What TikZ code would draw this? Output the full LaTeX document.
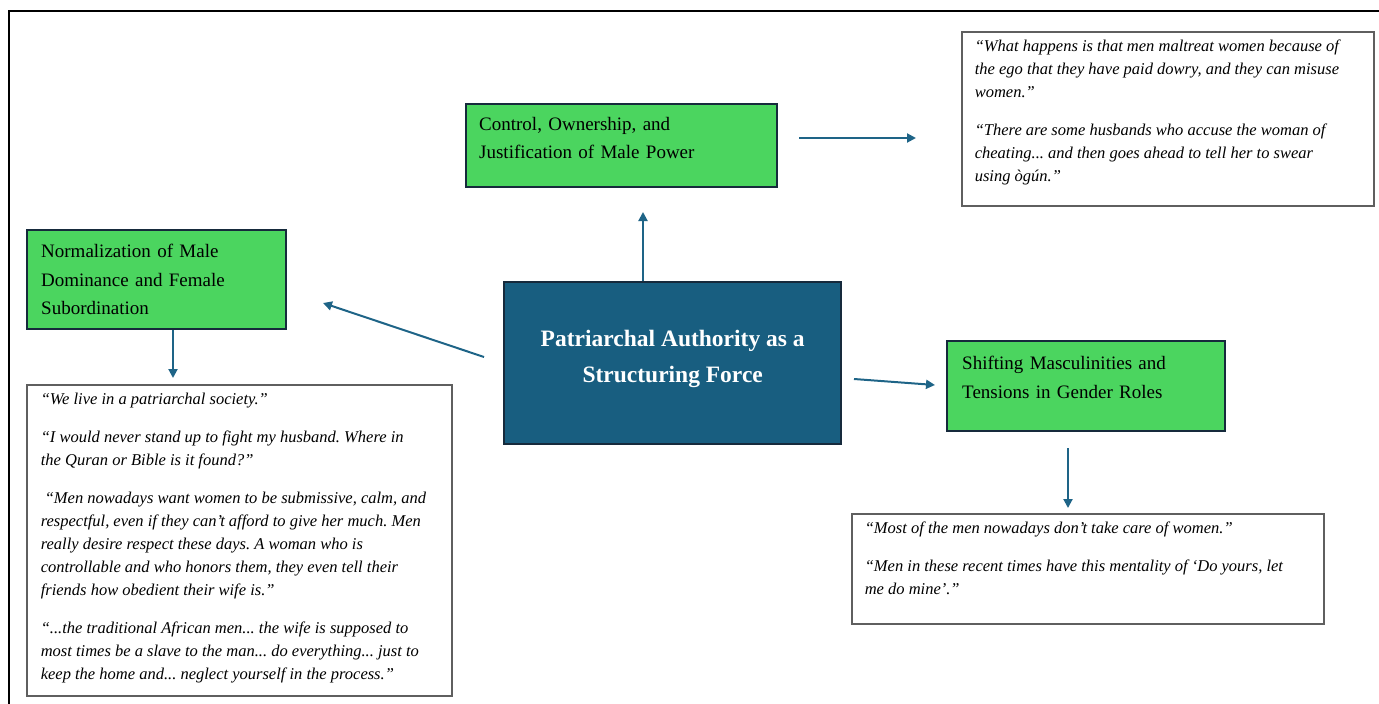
\documentclass[tikz,border=0pt]{standalone}
\usepackage{fontspec}
\setmainfont{Liberation Serif}
\usetikzlibrary{arrows.meta,positioning,calc}
\definecolor{themegreen}{RGB}{75,213,95}
\definecolor{themenavy}{RGB}{22,42,60}
\definecolor{coreblue}{RGB}{24,94,128}
\definecolor{linkblue}{RGB}{30,100,135}
\definecolor{quotegray}{RGB}{95,95,95}
\frenchspacing
% top aligned quote text of fixed size
\newcommand{\quotetext}[3]{\parbox[c][#2][t]{#1}{\raggedright\setlength{\parskip}{15pt}\setlength{\parindent}{0pt}#3}}
\tikzset{
    % green theme box
    themebox/.style={
        rectangle, draw=themenavy, fill=themegreen, line width=2.4pt,
        anchor=north west, align=left, inner xsep=13pt, inner ysep=0pt,
        font=\fontsize{19}{28.5}\selectfont
    },
    % central concept
    corebox/.style={
        rectangle, draw=themenavy, fill=coreblue, line width=2.4pt,
        anchor=north west, align=center, text=white,
        font=\fontsize{23.5}{36}\selectfont\bfseries
    },
    % quotation box
    quotebox/.style={
        rectangle, draw=quotegray, line width=1.6pt,
        anchor=north west, inner xsep=13pt, inner ysep=8pt,
        font=\fontsize{16.5}{23}\selectfont\itshape
    },
    link/.style={draw=linkblue, line width=2pt, -{Triangle[length=9pt,width=9pt]}},
}
\begin{document}
\begin{tikzpicture}[x=1pt,y=-1pt]
  \useasboundingbox (0,0) rectangle (1379,704);
  % --- page frame ---
  \draw[black,line width=2.5pt] (9,704) -- (9,11) -- (1379,11);

  % --- concepts ---
  \node[corebox,minimum width=337pt,minimum height=162pt,text depth=14pt] (core) at (503,281)
       {Patriarchal Authority as a\\ Structuring Force};
  \node[themebox,text width=285pt,minimum height=83pt,text depth=44pt] (ctrl) at (465,103)
       {Control, Ownership, and\\ Justification of Male Power};
  \node[themebox,inner xsep=14pt,text width=231pt,minimum height=99pt] (norm) at (26,229)
       {Normalization of Male\\ Dominance and Female\\ Subordination};
  \node[themebox,inner xsep=15pt,text width=248pt,minimum height=90pt,text depth=46pt] (shift) at (946,340)
       {Shifting Masculinities and\\ Tensions in Gender Roles};

  % --- quotations ---
  \node[quotebox] (qctrl) at (961,31) {\quotetext{386pt}{158pt}{%
    “What happens is that men maltreat women because of\\ the ego that they have paid dowry, and they can misuse\\ women.”\par
    “There are some husbands who accuse the woman of\\ cheating... and then goes ahead to tell her to swear\\ using ògún.”}};
  \node[quotebox,inner xsep=14pt] (qnorm) at (26,384) {\quotetext{397pt}{295pt}{%
    “We live in a patriarchal society.”\par
    “I would never stand up to fight my husband. Where in\\ the Quran or Bible is it found?”\par
    \hspace*{4pt}“Men nowadays want women to be submissive, calm, and\\ respectful, even if they can't afford to give her much. Men\\ really desire respect these days. A woman who is\\ controllable and who honors them, they even tell their\\ friends how obedient their wife is.”\par
    “...the traditional African men... the wife is supposed to\\ most times be a slave to the man... do everything... just to\\ keep the home and... neglect yourself in the process.”}};
  \node[quotebox] (qshift) at (851,513) {\quotetext{446pt}{94pt}{%
    “Most of the men nowadays don't take care of women.”\par
    “Men in these recent times have this mentality of ‘Do yours, let\\ me do mine’.”}};

  % --- arrow ends ---
  \coordinate (ctrlin) at (643,212);
  \coordinate (qctrlout) at (799,138);
  \coordinate (qctrlin) at (916,138);
  \coordinate (coreout) at (484,357);
  \coordinate (normin) at (323,303);
  \coordinate (qnormin) at (173,378);
  \coordinate (coreeast) at (854,379);
  \coordinate (shiftin) at (935,385);
  \coordinate (shiftout) at (1068,448);
  \coordinate (qshiftin) at (1068,508);

  % --- connectors ---
  \draw[link] (core.north -| ctrlin) -- (ctrlin);
  \draw[link] (qctrlout) -- (qctrlin);
  \draw[link] (coreout) -- (normin);
  \draw[link] (norm.south -| qnormin) -- (qnormin);
  \draw[link] (coreeast) -- (shiftin);
  \draw[link] (shiftout) -- (qshiftin);
\end{tikzpicture}
\end{document}
